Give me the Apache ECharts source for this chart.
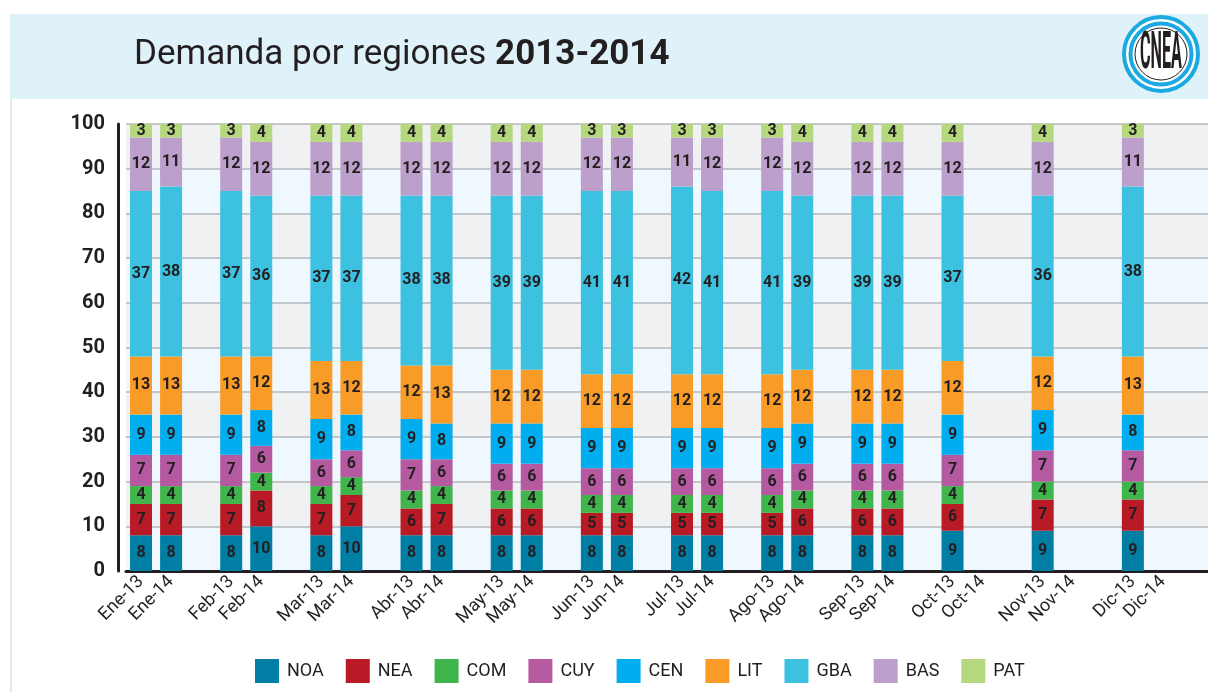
<!DOCTYPE html>
<html>
<head>
<meta charset="utf-8">
<title>Demanda por regiones 2013-2014</title>
<script src="https://cdn.jsdelivr.net/npm/echarts@6/dist/echarts.min.js"></script>
<style>
html, body { margin: 0; padding: 0; background: #fff; }
#chart { width: 1208px; height: 692px; }
</style>
</head>
<body>
<div id="chart"></div>
<script>
// periodos (mes-año), en el orden del eje
const periods = [
    'Ene-13', 'Ene-14', 'Feb-13', 'Feb-14', 'Mar-13', 'Mar-14',
    'Abr-13', 'Abr-14', 'May-13', 'May-14', 'Jun-13', 'Jun-14',
    'Jul-13', 'Jul-14', 'Ago-13', 'Ago-14', 'Sep-13', 'Sep-14',
    'Oct-13', 'Oct-14', 'Nov-13', 'Nov-14', 'Dic-13', 'Dic-14'
];
const regions = ['NOA', 'NEA', 'COM', 'CUY', 'CEN', 'LIT', 'GBA', 'BAS', 'PAT'];
const yTicks = [0, 10, 20, 30, 40, 50, 60, 70, 80, 90, 100];

// % de demanda por región (null = sin dato)
const noa = [8, 8, 8, 10, 8, 10, 8, 8, 8, 8, 8, 8, 8, 8, 8, 8, 8, 8, 9, null, 9, null, 9, null];
const nea = [7, 7, 7, 8, 7, 7, 6, 7, 6, 6, 5, 5, 5, 5, 5, 6, 6, 6, 6, null, 7, null, 7, null];
const com = [4, 4, 4, 4, 4, 4, 4, 4, 4, 4, 4, 4, 4, 4, 4, 4, 4, 4, 4, null, 4, null, 4, null];
const cuy = [7, 7, 7, 6, 6, 6, 7, 6, 6, 6, 6, 6, 6, 6, 6, 6, 6, 6, 7, null, 7, null, 7, null];
const cen = [9, 9, 9, 8, 9, 8, 9, 8, 9, 9, 9, 9, 9, 9, 9, 9, 9, 9, 9, null, 9, null, 8, null];
const lit = [13, 13, 13, 12, 13, 12, 12, 13, 12, 12, 12, 12, 12, 12, 12, 12, 12, 12, 12, null, 12, null, 13, null];
const gba = [37, 38, 37, 36, 37, 37, 38, 38, 39, 39, 41, 41, 42, 41, 41, 39, 39, 39, 37, null, 36, null, 38, null];
const bas = [12, 11, 12, 12, 12, 12, 12, 12, 12, 12, 12, 12, 11, 12, 12, 12, 12, 12, 12, null, 12, null, 11, null];
const pat = [3, 3, 3, 4, 4, 4, 4, 4, 4, 4, 3, 3, 3, 3, 3, 4, 4, 4, 4, null, 4, null, 3, null];

const values = [noa, nea, com, cuy, cen, lit, gba, bas, pat];
const colors = ['#007ea3', '#b81b25', '#3fb54b', '#b55aa1', '#00adee', '#f89b27', '#3cc2e0', '#bc9fcb', '#b5d77d'];

// cada mes ocupa 3 lugares: 2013, 2014 y un hueco
const slots = [];
const slotValues = values.map(() => []);
for (let i = 0; i < periods.length; i += 2) {
    slots.push(periods[i], periods[i + 1], '');
    values.forEach((v, r) => slotValues[r].push(v[i], v[i + 1], null));
}

const dark = '#231f20';
const chart = echarts.init(document.getElementById('chart'));

const option = {
    animation: false,
    title: {
        text: '{a|Demanda por regiones }{b|2013-2014}',
        left: 129,
        top: 33,
        textStyle: {
            rich: {
                a: { fontFamily: 'Roboto', fontSize: 35, fontWeight: 'normal', color: dark },
                b: { fontFamily: 'Roboto', fontSize: 35, fontWeight: 'bold', color: dark }
            }
        }
    },
    graphic: [
        { type: 'rect', z: -10, shape: { x: 10, y: 14, width: 1198, height: 85 }, style: { fill: '#dff2fa' } },
        { type: 'rect', z: -10, shape: { x: 10, y: 99, width: 2, height: 593 }, style: { fill: '#e6e6e6' } },
        { type: 'circle', shape: { cx: 1161, cy: 54, r: 37 }, style: { fill: '#fff', stroke: '#1ba9e1', lineWidth: 4 } },
        { type: 'circle', shape: { cx: 1161, cy: 54, r: 30.5 }, style: { fill: '#fff', stroke: '#1ba9e1', lineWidth: 4 } },
        { type: 'circle', shape: { cx: 1161, cy: 54, r: 26 }, style: { fill: 'none', stroke: dark, lineWidth: 1 } },
        {
            type: 'text', x: 1161, y: 55, scaleX: 0.95, scaleY: 3,
            style: {
                text: 'CNEA', fill: dark, fontFamily: 'Roboto', fontWeight: 'bold',
                fontSize: 17, align: 'center', verticalAlign: 'middle'
            }
        }
    ],
    legend: {
        data: regions,
        left: 250,
        top: 654,
        icon: 'rect',
        itemWidth: 24,
        itemHeight: 24,
        itemGap: 22,
        textStyle: { fontFamily: 'Roboto', fontSize: 18, color: dark, padding: [0, 0, 0, 3] }
    },
    grid: { left: 126, right: -12, top: 124, bottom: 121 },
    xAxis: {
        type: 'category',
        data: slots,
        axisLine: { lineStyle: { color: dark, width: 3 } },
        axisTick: { show: false },
        axisLabel: {
            interval: 0,
            rotate: 45,
            margin: 8,
            fontFamily: 'Roboto',
            fontSize: 18,
            color: dark
        }
    },
    yAxis: {
        type: 'value',
        min: yTicks[0],
        max: yTicks[yTicks.length - 1],
        interval: yTicks[1] - yTicks[0],
        offset: 8,
        axisLine: { show: true, lineStyle: { color: dark, width: 3 } },
        axisTick: { show: false },
        axisLabel: {
            margin: 13,
            fontFamily: 'Roboto',
            fontSize: 20,
            fontWeight: 'bold',
            color: dark
        },
        splitLine: { lineStyle: { color: '#b5b7ba', width: 1.5 } },
        splitArea: { show: true, areaStyle: { color: ['#eff8fe', '#f0f1f3'] } }
    },
    series: regions.map((name, r) => ({
        name: name,
        type: 'bar',
        stack: 'total',
        barWidth: 22,
        data: slotValues[r],
        itemStyle: { color: colors[r] },
        emphasis: { disabled: true },
        label: {
            show: true,
            position: 'inside',
            fontFamily: 'Roboto',
            fontSize: 16,
            fontWeight: 'bold',
            color: dark
        }
    }))
};
chart.setOption(option);
</script>
</body>
</html>
